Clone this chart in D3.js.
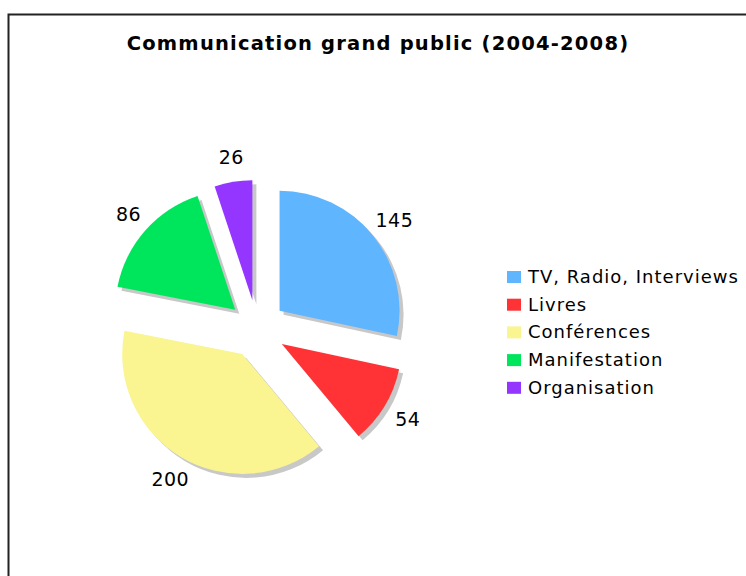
<!DOCTYPE html>
<html>
<head>
<meta charset="utf-8">
<script src="https://cdn.jsdelivr.net/npm/d3@7"></script>
<style>
  body { margin: 0; background: #fff; }
  text { font-family: "DejaVu Sans", Verdana, sans-serif; }
</style>
</head>
<body>
<div class="chart"></div>
<script>
const categories = ["TV, Radio, Interviews", "Livres", "Conférences", "Manifestation", "Organisation"];
const values = [145, 54, 200, 86, 26];
const colors = ["#60b5ff", "#ff3336", "#faf491", "#00e65c", "#9436ff"];
const title = "Communication grand public (2004-2008)";

const width = 746;
const height = 576;
const cx = 257;
const cy = 329;
const radius = 120;
const explode = 29;
const label_radius = 145;

const svg = d3.select(".chart").append("svg")
  .attr("width", width)
  .attr("height", height);

// frame (only left and top edges are visible in the window)
svg.append("rect")
  .attr("x", 8.5).attr("y", 14.5)
  .attr("width", width + 20).attr("height", height + 20)
  .attr("fill", "none")
  .attr("stroke", "#222")
  .attr("stroke-width", 2);

svg.append("text")
  .attr("x", 378).attr("y", 50)
  .attr("text-anchor", "middle")
  .style("font-size", "19.5px")
  .style("font-weight", "bold")
  .style("letter-spacing", "1.2px")
  .text(title);

const data = categories.map((c, i) => ({ name: c, value: values[i], color: colors[i] }));

const pie = d3.pie().sort(null).value(d => d.value);
const arc = d3.arc().innerRadius(0).outerRadius(radius);
const arcs = pie(data);

// direction of each slice's bisector
function dir(d) {
  const a = (d.startAngle + d.endAngle) / 2;
  return [Math.sin(a), -Math.cos(a)];
}

const g = svg.append("g").attr("transform", `translate(${cx},${cy})`);

// shadows
g.selectAll("path.shadow")
  .data(arcs)
  .enter().append("path")
    .attr("class", "shadow")
    .attr("transform", d => { const [x, y] = dir(d); return `translate(${x * explode + 4},${y * explode + 4})`; })
    .attr("d", arc)
    .attr("fill", "#c8c8c8");

// slices
g.selectAll("path.slice")
  .data(arcs)
  .enter().append("path")
    .attr("class", "slice")
    .attr("transform", d => { const [x, y] = dir(d); return `translate(${x * explode},${y * explode})`; })
    .attr("d", arc)
    .attr("fill", d => d.data.color);

// value labels
g.selectAll("text.value")
  .data(arcs)
  .enter().append("text")
    .attr("class", "value")
    .attr("x", d => dir(d)[0] * (explode + label_radius) + 2)
    .attr("y", d => dir(d)[1] * (explode + label_radius))
    .attr("text-anchor", "middle")
    .attr("dominant-baseline", "central")
    .style("font-size", "19px")
    .style("letter-spacing", "0.5px")
    .attr("fill", "#000")
    .text(d => d.data.value);

// legend
const legend = svg.append("g").attr("transform", "translate(507,271)");
const rows = legend.selectAll("g.row")
  .data(data)
  .enter().append("g")
    .attr("class", "row")
    .attr("transform", (d, i) => `translate(0,${i * 27.7})`);
rows.append("rect")
  .attr("width", 14).attr("height", 12)
  .attr("fill", d => d.color);
rows.append("text")
  .attr("x", 21).attr("y", 12)
  .style("font-size", "18px")
  .style("letter-spacing", "1px")
  .attr("fill", "#000")
  .text(d => d.name);
</script>
</body>
</html>
